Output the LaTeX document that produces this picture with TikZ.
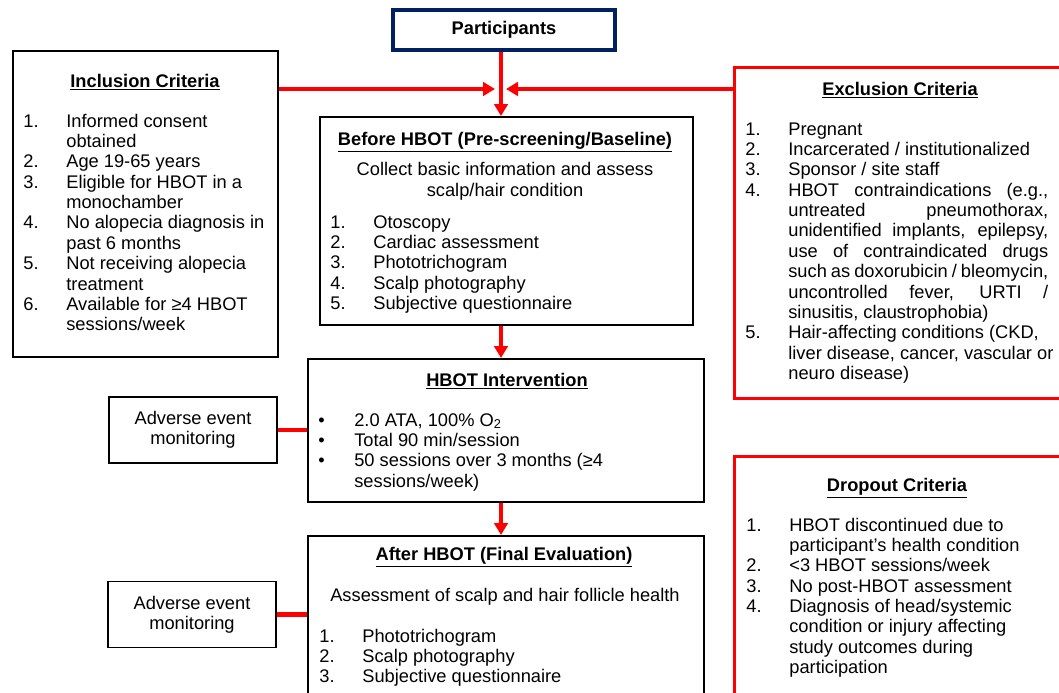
\documentclass[tikz,border=0pt]{standalone}
\usepackage{fontspec}
\setmainfont{Liberation Sans}
\usepackage{array}
\usetikzlibrary{positioning}
\usetikzlibrary{arrows.meta}
\definecolor{navy}{RGB}{0,32,96}
\tikzset{>={Triangle[length=0.24cm,width=0.27cm]}}
\newcommand{\listfont}{\fontsize{10.4}{11.6}\selectfont}
\newcommand{\ul}[1]{\underline{#1}}
\newcommand{\jline}[1]{\makebox[5.2cm][s]{#1}}
\newcolumntype{L}[1]{>{\raggedright\arraybackslash}p{#1}}
\tikzset{
	% boxes
	box/.style={draw=black,line width=1.1pt,inner sep=0pt,font=\listfont},
	redbox/.style={draw=red,line width=1.9pt,inner sep=0pt},
	topbox/.style={draw=navy,line width=2pt,inner sep=0pt,font=\listfont\bfseries},
	% texts
	head/.style={anchor=base,inner sep=0pt,font=\listfont\bfseries},
	items/.style={anchor=base west,inner sep=0pt,font=\listfont},
	% connectors
	flow/.style={draw=red,line width=2.3pt},
}

\begin{document}
\begin{tikzpicture}[x=0.02cm,y=-0.02cm]
\useasboundingbox (0,0) rectangle (1059,693);
\clip (0,0) rectangle (1059,693);
% the boxes
\node[topbox,minimum width=4.44cm,minimum height=0.8cm] (part) at (504,30) {Participants};
\node[box,anchor=north west,minimum width=5.3cm,minimum height=6.12cm] (incl) at (12,50) {};
\node[redbox,anchor=north west,minimum width=6.84cm,minimum height=6.62cm] (excl) at (733,66) {};
\node[box,anchor=north west,minimum width=7.46cm,minimum height=4.16cm] (pre) at (319,116) {};
\node[box,anchor=north west,minimum width=7.92cm,minimum height=2.86cm] (iv) at (307,358) {};
\node[box,anchor=north west,minimum width=7.92cm,minimum height=3.7cm] (post) at (307,535) {};
\node[redbox,anchor=north west,minimum width=6.84cm,minimum height=5.3cm] (drop) at (733,455) {};
\node[box,minimum width=3.36cm,minimum height=1.32cm,align=center] (ae1) at (193,430) {Adverse event\\monitoring};
\node[box,minimum width=3.36cm,minimum height=1.32cm,align=center] (ae2) at (192,614.5) {Adverse event\\monitoring};
% inclusion
\node[head] (inclH) at (145,87) {\ul{Inclusion Criteria}};
\node[items] (inclL) at (23,127) {\begin{tabular}[t]{@{}p{0.86cm}@{}L{4.2cm}@{}}
1. & Informed consent\newline obtained\\
2. & Age 19-65 years\\
3. & Eligible for HBOT in a\newline monochamber\\
4. & No alopecia diagnosis in\newline past 6 months\\
5. & Not receiving alopecia\newline treatment\\
6. & Available for ≥4 HBOT\newline sessions/week
\end{tabular}};
% before HBOT
\node[head] (preH) at (505,145) {\ul{Before HBOT (Pre-screening/Baseline)}};
\node[anchor=base,inner sep=0pt,font=\listfont,align=center] (preT) at (505,196) {Collect basic information and assess\\scalp/hair condition};
\node[items] (preL) at (330,228) {\begin{tabular}[t]{@{}p{0.86cm}@{}L{6cm}@{}}
1. & Otoscopy\\
2. & Cardiac assessment\\
3. & Phototrichogram\\
4. & Scalp photography\\
5. & Subjective questionnaire
\end{tabular}};
% intervention
\node[head] (ivH) at (507,386) {\ul{HBOT Intervention}};
\node[items] (ivL) at (318,426) {\begin{tabular}[t]{@{}p{0.72cm}@{}L{6.6cm}@{}}
\textbullet & 2.0 ATA, 100\% O\textsubscript{2}\\
\textbullet & Total 90 min/session\\
\textbullet & 50 sessions over 3 months (≥4\newline sessions/week)
\end{tabular}};
% after HBOT
\node[head] (postH) at (504,560) {\ul{After HBOT (Final Evaluation)}};
\node[anchor=base,inner sep=0pt,font=\listfont] (postT) at (505,601) {Assessment of scalp and hair follicle health};
\node[items] (postL) at (319,642) {\begin{tabular}[t]{@{}p{0.86cm}@{}L{6cm}@{}}
1. & Phototrichogram\\
2. & Scalp photography\\
3. & Subjective questionnaire
\end{tabular}};
% exclusion
\node[head] (exclH) at (900,95) {\ul{Exclusion Criteria}};
\node[items] (exclL) at (745,135) {\begin{tabular}[t]{@{}p{0.86cm}@{}L{5.4cm}@{}}
1. & Pregnant\\
2. & Incarcerated / institutionalized\\
3. & Sponsor / site staff\\
4. & \jline{HBOT contraindications (e.g.,}\newline
     \jline{untreated pneumothorax,}\newline
     \jline{unidentified implants, epilepsy,}\newline
     \jline{use of contraindicated drugs}\newline
     \jline{such as doxorubicin / bleomycin,}\newline
     \jline{uncontrolled fever, URTI /}\newline
     sinusitis, claustrophobia)\\
5. & Hair-affecting conditions (CKD,\newline liver disease, cancer, vascular or\newline neuro disease)
\end{tabular}};
% dropout
\node[head] (dropH) at (897,491) {\ul{Dropout Criteria}};
\node[items] (dropL) at (746,531) {\begin{tabular}[t]{@{}p{0.86cm}@{}L{5.4cm}@{}}
1. & HBOT discontinued due to\newline participant’s health condition\\
2. & <3 HBOT sessions/week\\
3. & No post-HBOT assessment\\
4. & Diagnosis of head/systemic\newline condition or injury affecting\newline study outcomes during\newline participation
\end{tabular}};
% connectors
\coordinate (axis) at (501,0);
\coordinate (inL) at (495,89);
\coordinate (inR) at (506,89);
\draw[flow,->] (part.south -| axis) -- (pre.north -| axis);
\draw[flow,->] (incl.east |- inL) -- (inL);
\draw[flow,->] (excl.west |- inR) -- (inR);
\draw[flow,->] (pre.south -| axis) -- (iv.north -| axis);
\draw[flow,->] (iv.south -| axis) -- (post.north -| axis);
\draw[flow] (ae1.east) -- (ae1.east -| iv.west);
\draw[flow] (ae2.east) -- (ae2.east -| post.west);
\end{tikzpicture}
\end{document}
